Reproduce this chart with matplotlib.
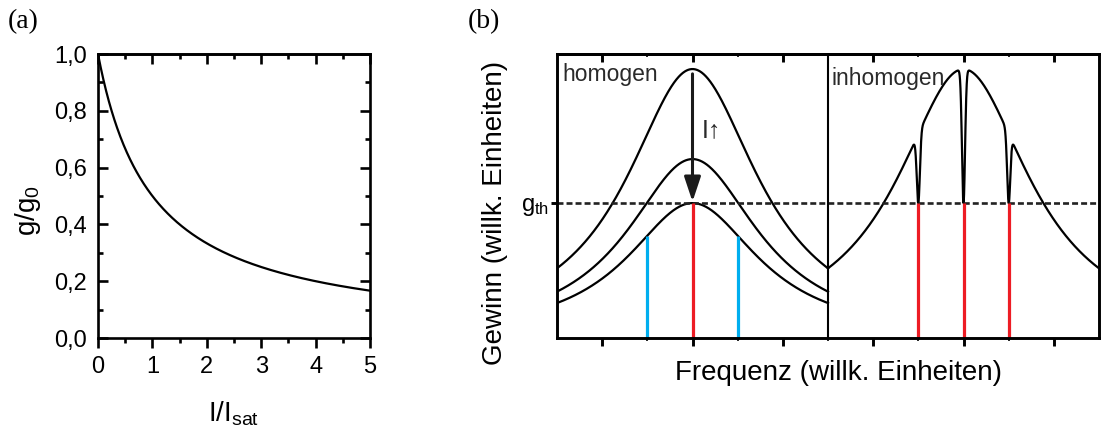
import numpy as np
import matplotlib
matplotlib.use('Agg')
import matplotlib.pyplot as plt
from matplotlib.ticker import MultipleLocator

plt.rcParams['font.family'] = ['Liberation Sans', 'DejaVu Sans']
plt.rcParams['mathtext.fontset'] = 'custom'
plt.rcParams['mathtext.rm'] = 'Liberation Sans'
plt.rcParams['mathtext.it'] = 'Liberation Sans:italic'
plt.rcParams['lines.scale_dashes'] = False

# ---------------- data: panel (a) ----------------
a_xticks = [0, 1, 2, 3, 4, 5]
a_yticks = [0.0, 0.2, 0.4, 0.6, 0.8, 1.0]
a_yticklabels = ['0,0', '0,2', '0,4', '0,6', '0,8', '1,0']
I_sat = 1.0           # g/g0 = 0.5 at I = 1
I_max = 5.0

# ---------------- data: panel (b) ----------------
hom_peaks = [0.947, 0.63, 0.475]   # peak gain of the three homogeneous curves
hom_center = 1.5
lor_width = 0.887                  # half width of the gain profiles
inh_center = 4.5
inh_peak = 0.947
g_th = 0.475
hole_width = 0.017
blue_modes = [1.0, 2.0]
red_modes_hom = [1.5]
red_modes_inh = [4.0, 4.5, 5.0]
b_major = [0.5, 1.5, 2.5, 3.5, 4.5, 5.5]
b_minor = [1, 2, 3, 4, 5]
divider = 3.0

RED = '#ED1C24'
BLUE = '#00AEEF'

fig = plt.figure(figsize=(11.02, 4.30), dpi=100)

# ================= panel (a) =================
axa = fig.add_axes([98/1102, 92/430, 272/1102, 284/430])
I = np.linspace(0, I_max, 500)
axa.plot(I, 1.0/(1.0 + I/I_sat), color='black', lw=1.6)
axa.set_xlim(0, 5)
axa.set_ylim(0, 1.0)
axa.set_xticks(a_xticks)
axa.set_xticklabels([str(t) for t in a_xticks])
axa.set_yticks(a_yticks)
axa.set_yticklabels(a_yticklabels)
axa.xaxis.set_minor_locator(MultipleLocator(0.5))
axa.yaxis.set_minor_locator(MultipleLocator(0.1))
for s in axa.spines.values():
    s.set_linewidth(1.9)
axa.tick_params(axis='x', which='major', direction='out', length=7, width=1.9,
                labelsize=17, pad=6)
axa.tick_params(axis='x', which='minor', direction='out', length=3.5, width=1.9)
axa.tick_params(axis='y', which='major', direction='in', length=7, width=1.9,
                labelsize=17, pad=8, right=True)
axa.tick_params(axis='y', which='minor', direction='in', length=3.5, width=1.9,
                right=True)
seca = axa.secondary_xaxis('top')
seca.set_xticks(a_xticks)
seca.xaxis.set_minor_locator(MultipleLocator(0.5))
seca.tick_params(which='major', direction='in', length=7, width=1.9, labeltop=False)
seca.tick_params(which='minor', direction='in', length=3.5, width=1.9)
seca.spines['top'].set_linewidth(1.9)

axa.set_xlabel(r'I/I$_{\rm sat}$', fontsize=20)
axa.xaxis.set_label_coords(0.5, -0.265)
axa.xaxis.label.set_va('center')
axa.set_ylabel(r'g/g$_{\rm 0}$', fontsize=20)
axa.yaxis.set_label_coords(-0.257, 0.45)
axa.yaxis.label.set_va('center')

fig.text(8/1102, 1 - 22/430, '(a)', family='Liberation Serif', fontsize=20,
         va='center', ha='left')

# ================= panel (b) =================
axb = fig.add_axes([557/1102, 92/430, 542/1102, 284/430])

def lorentz(x, peak, x0):
    return peak / (1.0 + ((x - x0) / lor_width) ** 2)

xl = np.linspace(0, divider, 800)
for pk in hom_peaks:
    axb.plot(xl, lorentz(xl, pk, hom_center), color='black', lw=1.6)

xr = np.linspace(divider, 6, 6000)
g_inh = lorentz(xr, inh_peak, inh_center)
for xm in red_modes_inh:
    depth = lorentz(xm, inh_peak, inh_center) - g_th
    g_inh = g_inh - depth * np.exp(-0.5 * ((xr - xm) / hole_width) ** 2)
axb.plot(xr, g_inh, color='black', lw=1.6)

# threshold
axb.plot([0, 6], [g_th, g_th], color='#222222', lw=1.9, dashes=(4.3, 2.2))

# modes
lowest = hom_peaks[-1]
for xm in blue_modes:
    axb.plot([xm, xm], [0, lorentz(xm, lowest, hom_center)], color=BLUE, lw=2.3,
             solid_capstyle='butt')
for xm in red_modes_hom + red_modes_inh:
    axb.plot([xm, xm], [0, g_th], color=RED, lw=2.3, solid_capstyle='butt')

# divider
axb.axvline(divider, color='black', lw=1.5)

# arrow
axb.annotate('', xy=(hom_center, g_th + 0.005), xytext=(hom_center, 0.93),
             arrowprops=dict(arrowstyle='-|>,head_length=1.5,head_width=0.5',
                             lw=2.2, color='#1a1a1a', mutation_scale=10,
                             shrinkA=0, shrinkB=0))
axb.text(1.6, 0.732, 'I\u2191', fontsize=18, va='center', ha='left',
         color='#2a2a2a')

axb.text(0.055, 0.928, 'homogen', fontsize=16.5, va='center', ha='left',
         color='#2a2a2a')
axb.text(3.044, 0.915, 'inhomogen', fontsize=16.5, va='center', ha='left',
         color='#2a2a2a')

axb.set_xlim(0, 6)
axb.set_ylim(0, 1)
axb.set_xticks(b_major)
axb.set_xticklabels([])
axb.set_xticks(b_minor, minor=True)
axb.set_yticks([g_th])
axb.set_yticklabels([r'g$_{\rm th}$'])
for s in axb.spines.values():
    s.set_linewidth(2.1)
axb.tick_params(axis='x', which='major', direction='out', length=6, width=2.1)
axb.tick_params(axis='x', which='minor', direction='out', length=2, width=1.2)
axb.tick_params(axis='y', which='major', direction='out', length=4, width=2.1,
                labelsize=17, pad=2)
secb = axb.secondary_xaxis('top')
secb.set_xticks(b_major)
secb.set_xticks(b_minor, minor=True)
secb.tick_params(which='major', direction='in', length=6, width=2.1, labeltop=False)
secb.tick_params(which='minor', direction='in', length=2, width=1.2)
secb.spines['top'].set_linewidth(2.1)

axb.set_xlabel('Frequenz (willk. Einheiten)', fontsize=20)
axb.xaxis.set_label_coords(0.52, -0.123)
axb.xaxis.label.set_va('center')
axb.set_ylabel('Gewinn (willk. Einheiten)', fontsize=20)
axb.yaxis.set_label_coords(-0.114, 0.44)
axb.yaxis.label.set_va('center')

fig.text(468/1102, 1 - 22/430, '(b)', family='Liberation Serif', fontsize=20,
         va='center', ha='left')

fig.savefig('out.png', dpi=100)
